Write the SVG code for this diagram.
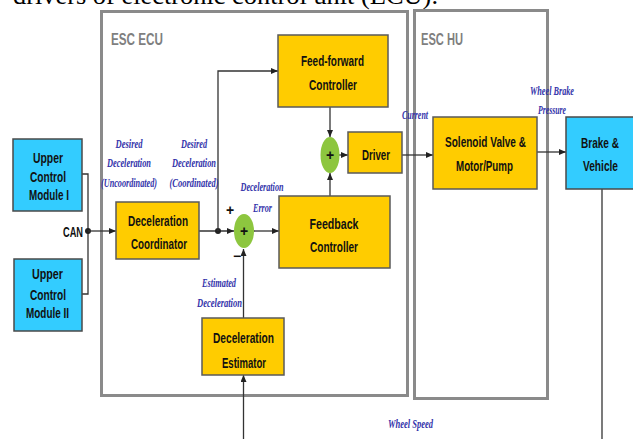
<svg xmlns="http://www.w3.org/2000/svg" width="633" height="439" viewBox="0 0 633 439">
<defs>
<marker id="arr" markerWidth="7" markerHeight="6" refX="7" refY="3" orient="auto" markerUnits="userSpaceOnUse">
<path d="M0,0 L7,3 L0,6 Z" fill="#222"/>
</marker>
<style>
.frame{fill:none;stroke:#8a8a8a;stroke-width:3}
.frameLbl{font-family:"Liberation Sans Narrow","Liberation Sans",Arial,sans-serif;font-weight:bold;font-size:17px;fill:#7f7f7f}
.yb{fill:#ffcc00;stroke:#5a5a5a;stroke-width:1.5}
.cb{fill:#33ccff;stroke:#4a4a4a;stroke-width:1.5}
.sum{fill:#8dc63f;stroke:none}
.t{font-family:"Liberation Sans Narrow","Liberation Sans",Arial,sans-serif;font-weight:bold;font-size:15px;fill:#111;text-anchor:middle}
.b{font-family:"Liberation Serif","DejaVu Serif",serif;font-style:italic;font-weight:bold;font-size:12px;fill:#3333aa;text-anchor:middle}
.c{fill:none;stroke:#333;stroke-width:1.3}
.ca{fill:none;stroke:#333;stroke-width:1.3;marker-end:url(#arr)}
.sym{font-family:"Liberation Sans",Arial,sans-serif;font-weight:bold;font-size:14px;fill:#111;text-anchor:middle}
</style>
</defs>
<rect width="633" height="439" fill="#fff"/>
<text x="13" y="4" font-family="Liberation Serif,serif" font-size="26" fill="#000" textLength="425" lengthAdjust="spacingAndGlyphs">drivers of electronic control unit (ECU).</text>

<g id="esc-ecu">
<rect class="frame" x="101.5" y="11.5" width="306" height="384"/>
<text class="frameLbl" x="111" y="45" textLength="52" lengthAdjust="spacingAndGlyphs">ESC ECU</text>
</g>
<g id="esc-hu">
<rect class="frame" x="414.5" y="10.5" width="133" height="388"/>
<text class="frameLbl" x="421" y="45" textLength="42" lengthAdjust="spacingAndGlyphs">ESC HU</text>
</g>

<g id="connectors">
<polyline class="c" points="82,174 88,174 88,294 82,294"/>
<circle cx="88" cy="231" r="3" fill="#222"/>
<line class="ca" x1="88" y1="231" x2="116" y2="231"/>
<line class="ca" x1="199" y1="231" x2="234" y2="231"/>
<circle cx="218" cy="231" r="3" fill="#222"/>
<polyline class="ca" points="218,231 218,71 278,71"/>
<line class="ca" x1="254" y1="231" x2="279" y2="231"/>
<line class="ca" x1="243.5" y1="318" x2="243.5" y2="249"/>
<line class="ca" x1="243.5" y1="439" x2="243.5" y2="375"/>
<line class="ca" x1="330" y1="107" x2="330" y2="137"/>
<line class="ca" x1="330" y1="196" x2="330" y2="173"/>
<line class="ca" x1="339" y1="155" x2="348" y2="155"/>
<line class="ca" x1="402" y1="155" x2="433" y2="155"/>
<line class="ca" x1="537" y1="152" x2="566" y2="152"/>
<line class="c" x1="602" y1="189" x2="602" y2="439"/>
</g>

<g id="upper1">
<rect class="cb" x="13" y="139" width="69" height="72"/>
<text class="t" x="48" y="163" textLength="30" lengthAdjust="spacingAndGlyphs">Upper</text>
<text class="t" x="48" y="182" textLength="36" lengthAdjust="spacingAndGlyphs">Control</text>
<text class="t" x="49" y="200" textLength="40" lengthAdjust="spacingAndGlyphs">Module I</text>
</g>
<g id="upper2">
<rect class="cb" x="14" y="259" width="68" height="72"/>
<text class="t" x="47.5" y="279" textLength="31" lengthAdjust="spacingAndGlyphs">Upper</text>
<text class="t" x="48" y="300" textLength="36" lengthAdjust="spacingAndGlyphs">Control</text>
<text class="t" x="47.5" y="318" textLength="43" lengthAdjust="spacingAndGlyphs">Module II</text>
</g>
<text class="t" x="73" y="237" textLength="20" lengthAdjust="spacingAndGlyphs">CAN</text>

<g id="coordinator">
<rect class="yb" x="116" y="202" width="83" height="57"/>
<text class="t" x="158" y="226" textLength="60" lengthAdjust="spacingAndGlyphs">Deceleration</text>
<text class="t" x="159" y="249" textLength="56" lengthAdjust="spacingAndGlyphs">Coordinator</text>
</g>
<g id="feedforward">
<rect class="yb" x="278" y="35" width="110" height="72"/>
<text class="t" x="332.5" y="66" textLength="63" lengthAdjust="spacingAndGlyphs">Feed-forward</text>
<text class="t" x="333" y="90" textLength="48" lengthAdjust="spacingAndGlyphs">Controller</text>
</g>
<g id="feedback">
<rect class="yb" x="279" y="196" width="111" height="72"/>
<text class="t" x="334" y="229" textLength="49" lengthAdjust="spacingAndGlyphs">Feedback</text>
<text class="t" x="334" y="252" textLength="48" lengthAdjust="spacingAndGlyphs">Controller</text>
</g>
<g id="driver">
<rect class="yb" x="348" y="132" width="54" height="41"/>
<text class="t" x="376" y="160" textLength="28" lengthAdjust="spacingAndGlyphs">Driver</text>
</g>
<g id="solenoid">
<rect class="yb" x="433" y="117" width="104" height="72"/>
<text class="t" x="485.5" y="147" textLength="81" lengthAdjust="spacingAndGlyphs">Solenoid Valve &amp;</text>
<text class="t" x="484.5" y="171" textLength="57" lengthAdjust="spacingAndGlyphs">Motor/Pump</text>
</g>
<g id="brake">
<rect class="cb" x="566" y="117" width="80" height="72"/>
<text class="t" x="600" y="148" textLength="38" lengthAdjust="spacingAndGlyphs">Brake &amp;</text>
<text class="t" x="600.5" y="171" textLength="35" lengthAdjust="spacingAndGlyphs">Vehicle</text>
</g>
<g id="estimator">
<rect class="yb" x="202" y="318" width="82" height="57"/>
<text class="t" x="243.5" y="343" textLength="61" lengthAdjust="spacingAndGlyphs">Deceleration</text>
<text class="t" x="244" y="368" textLength="44" lengthAdjust="spacingAndGlyphs">Estimator</text>
</g>
<g id="sum1">
<ellipse class="sum" cx="244" cy="231" rx="10" ry="17"/>
<text class="sym" x="244" y="236">+</text>
</g>
<g id="sum2">
<ellipse class="sum" cx="330" cy="155" rx="9.5" ry="18"/>
<text class="sym" x="330" y="160">+</text>
</g>
<text class="sym" x="230" y="215">+</text>
<text class="sym" x="237" y="261">−</text>

<g id="labels">
<text class="b" x="129" y="148" textLength="27" lengthAdjust="spacingAndGlyphs">Desired</text>
<text class="b" x="129" y="167" textLength="44" lengthAdjust="spacingAndGlyphs">Deceleration</text>
<text class="b" x="129" y="187" textLength="56" lengthAdjust="spacingAndGlyphs">(Uncoordinated)</text>
<text class="b" x="194" y="148" textLength="26" lengthAdjust="spacingAndGlyphs">Desired</text>
<text class="b" x="194" y="167" textLength="44" lengthAdjust="spacingAndGlyphs">Deceleration</text>
<text class="b" x="194" y="187" textLength="49" lengthAdjust="spacingAndGlyphs">(Coordinated)</text>
<text class="b" x="262" y="191" textLength="43" lengthAdjust="spacingAndGlyphs">Deceleration</text>
<text class="b" x="262.5" y="212" textLength="19" lengthAdjust="spacingAndGlyphs">Error</text>
<text class="b" x="219" y="287" textLength="34" lengthAdjust="spacingAndGlyphs">Estimated</text>
<text class="b" x="219.5" y="307" textLength="45" lengthAdjust="spacingAndGlyphs">Deceleration</text>
<text class="b" x="415" y="119" textLength="26" lengthAdjust="spacingAndGlyphs">Current</text>
<text class="b" x="552" y="95" textLength="44" lengthAdjust="spacingAndGlyphs">Wheel Brake</text>
<text class="b" x="552" y="114" textLength="28" lengthAdjust="spacingAndGlyphs">Pressure</text>
<text class="b" x="410.5" y="428" textLength="45" lengthAdjust="spacingAndGlyphs">Wheel Speed</text>
</g>
</svg>
